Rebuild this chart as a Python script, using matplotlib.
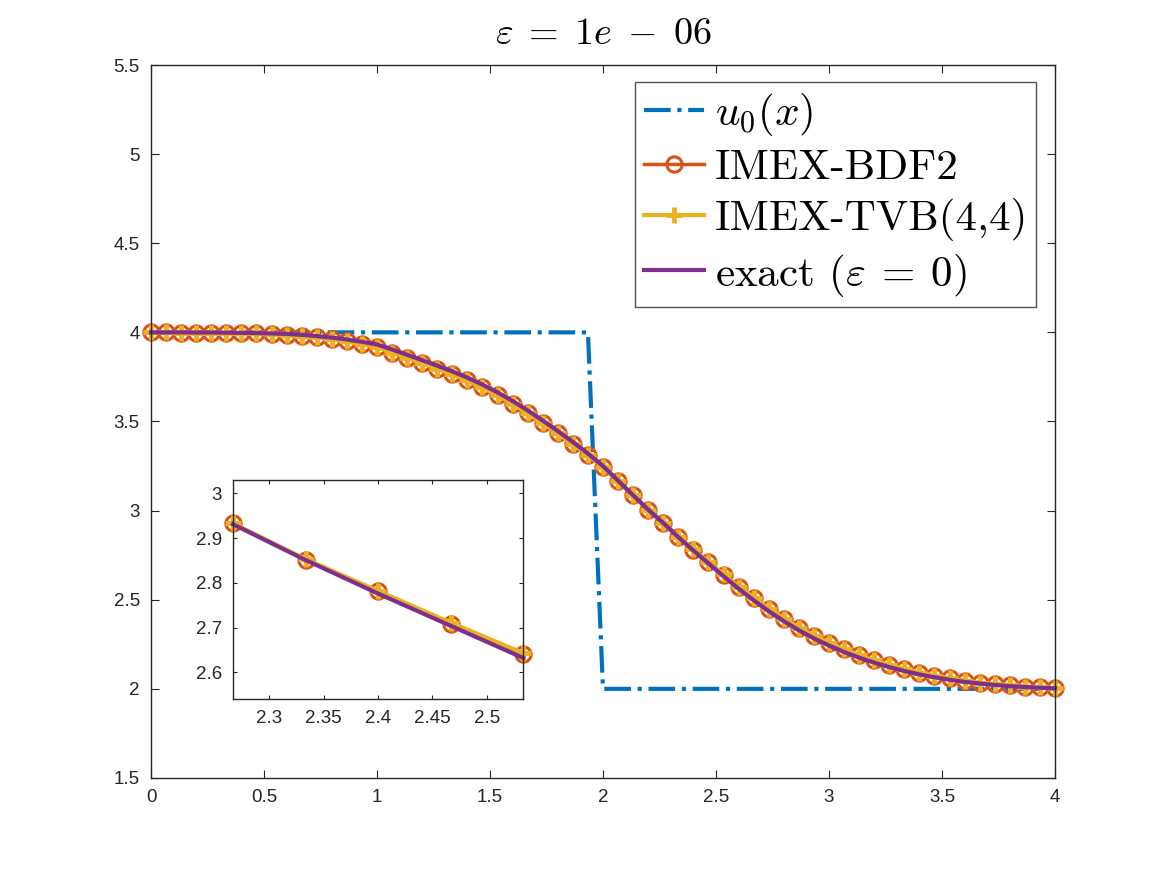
import numpy as np
import matplotlib
matplotlib.use("Agg")
import matplotlib.pyplot as plt
from matplotlib.font_manager import FontProperties

# grid used by the solvers (61 points on [0, 4])
x = np.linspace(0, 4, 61)

# initial data: step from 4 down to 2
u0 = [4.0] * 30 + [2.0] * 31

# IMEX-BDF2 values at the grid points
bdf2 = [4.000, 4.000, 3.999, 3.999, 3.998, 3.997, 3.996, 3.995, 3.993, 3.988,
        3.981, 3.972, 3.962, 3.949, 3.934, 3.917, 3.887, 3.857, 3.827, 3.797,
        3.765, 3.730, 3.691, 3.647, 3.600, 3.548, 3.492, 3.434, 3.374, 3.312,
        3.245, 3.165, 3.085, 3.006, 2.933, 2.852, 2.781, 2.709, 2.641, 2.573,
        2.510, 2.450, 2.394, 2.343, 2.298, 2.258, 2.222, 2.189, 2.160, 2.134,
        2.111, 2.091, 2.074, 2.059, 2.046, 2.035, 2.026, 2.019, 2.013, 2.008,
        2.003]

# IMEX-TVB(4,4) lies on top of BDF2 at this scale
tvb = [4.000, 4.000, 3.999, 3.999, 3.998, 3.997, 3.996, 3.995, 3.993, 3.988,
       3.981, 3.972, 3.962, 3.949, 3.934, 3.917, 3.887, 3.857, 3.827, 3.797,
       3.765, 3.730, 3.691, 3.647, 3.600, 3.548, 3.492, 3.434, 3.374, 3.312,
       3.245, 3.165, 3.085, 3.006, 2.933, 2.853, 2.782, 2.711, 2.643, 2.574,
       2.511, 2.450, 2.394, 2.343, 2.298, 2.258, 2.222, 2.189, 2.160, 2.134,
       2.111, 2.091, 2.074, 2.059, 2.046, 2.035, 2.026, 2.019, 2.013, 2.008,
       2.003]

# exact solution for eps = 0
exact = [4.000, 4.000, 4.000, 3.999, 3.999, 3.998, 3.997, 3.996, 3.994, 3.991,
         3.986, 3.979, 3.971, 3.960, 3.947, 3.932, 3.904, 3.874, 3.844, 3.813,
         3.781, 3.746, 3.707, 3.663, 3.615, 3.562, 3.505, 3.446, 3.385, 3.320,
         3.250, 3.168, 3.086, 3.005, 2.931, 2.851, 2.776, 2.704, 2.632, 2.562,
         2.497, 2.436, 2.380, 2.329, 2.283, 2.243, 2.207, 2.175, 2.147, 2.122,
         2.100, 2.081, 2.065, 2.051, 2.039, 2.030, 2.022, 2.015, 2.010, 2.006,
         2.003]

labels = [r"$u_0(x)$", "IMEX-BDF2", "IMEX-TVB(4,4)",
          r"exact ($\varepsilon\:=\:0$)"]
main_xticks = [0, 0.5, 1, 1.5, 2, 2.5, 3, 3.5, 4]
main_yticks = [1.5, 2, 2.5, 3, 3.5, 4, 4.5, 5, 5.5]
inset_xticks = [2.3, 2.35, 2.4, 2.45, 2.5]
inset_yticks = [2.6, 2.7, 2.8, 2.9, 3]

blue = "#0072BD"
orange = "#D95319"
yellow = "#EDB120"
purple = "#7E2F8E"
dark = "#262626"

plt.rcParams["mathtext.fontset"] = "cm"
plt.rcParams["font.family"] = ["Liberation Sans", "DejaVu Sans"]
plt.rcParams["axes.unicode_minus"] = False


def draw(ax, sl, ms):
    xs = x[sl]
    l0, = ax.plot(xs, u0[sl], color=blue, ls="-.", lw=3)
    l1, = ax.plot(xs, bdf2[sl], color=orange, ls="-", lw=2.5, marker="o",
                  ms=ms, mfc="none", mew=2.2, clip_on=False)
    l2, = ax.plot(xs, tvb[sl], color=yellow, ls="-", lw=3, marker="+",
                  ms=ms, mew=3.5, clip_on=False)
    l3, = ax.plot(xs, exact[sl], color=purple, ls="-", lw=3, clip_on=False)
    return [l0, l1, l2, l3]


def style(ax, ticklen):
    for s in ax.spines.values():
        s.set_color(dark)
        s.set_linewidth(1)
    ax.tick_params(direction="in", top=True, right=True, length=ticklen,
                   width=0.8, colors=dark, labelsize=13.5, pad=8)


fig = plt.figure(figsize=(11.67, 8.75), dpi=100)
ax = fig.add_axes([0.1294, 0.1109, 0.7746, 0.8148])
lines = draw(ax, slice(0, 61), 11)
ax.set_xlim(0, 4)
ax.set_ylim(1.5, 5.5)
ax.set_xticks(main_xticks)
ax.set_xticklabels([f"{t:g}" for t in main_xticks])
ax.set_yticks(main_yticks)
ax.set_yticklabels([f"{t:g}" for t in main_yticks])
style(ax, 6)
ax.set_title(r"$\varepsilon\;=\;1e\;-\;06$", fontsize=27.5, pad=15)

leg = ax.legend(lines, labels, loc="upper right",
                bbox_to_anchor=(0.9795, 0.9755),
                prop=FontProperties(family="cmr10", size=31), frameon=True,
                fancybox=False, edgecolor=dark, handlelength=1.4,
                handletextpad=0.25, borderpad=0.2, labelspacing=0.25,
                borderaxespad=0)
leg.get_frame().set_linewidth(1)

axin = fig.add_axes([0.1997, 0.2011, 0.2485, 0.2503])
draw(axin, slice(34, 39), 11)
axin.set_xlim(2.2667, 2.5333)
axin.set_ylim(2.54, 3.03)
axin.set_xticks(inset_xticks)
axin.set_xticklabels([f"{t:g}" for t in inset_xticks])
axin.set_yticks(inset_yticks)
axin.set_yticklabels([f"{t:g}" for t in inset_yticks])
style(axin, 3)

fig.savefig("out.png", dpi=100)
